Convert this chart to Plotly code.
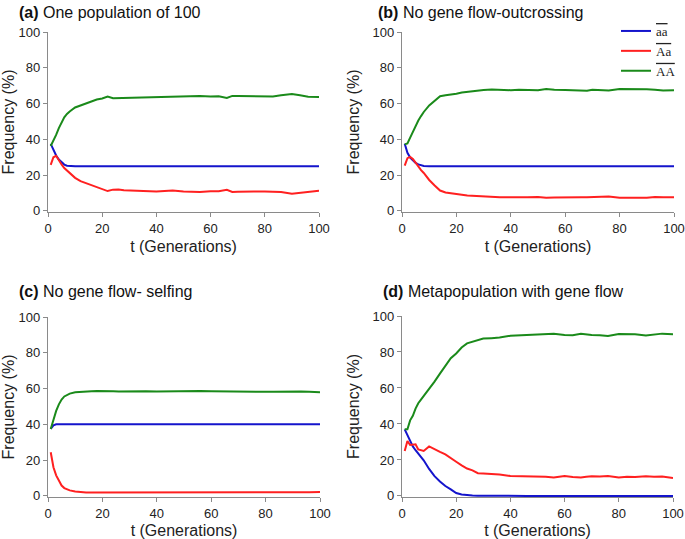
import plotly.graph_objects as go
from plotly.subplots import make_subplots

# generations sampled from the curves
generations = [1, 2, 3, 4, 5, 6, 7, 8, 10, 12, 14, 16, 18, 20, 22, 24, 26, 28, 30, 33, 36,
               40, 43, 46, 50, 53, 56, 60, 63, 66, 68, 70, 73, 76, 80, 83, 86, 90, 93, 96, 100]

# (a) one population of 100
aa_a = [37.5, 33.8, 31.0, 28.7, 27.0, 25.9, 25.3, 25.1] + [25.0] * 33
Aa_a = [25.7, 30.0, 30.8, 28.0, 26.0, 24.0, 22.5, 21.3, 18.5, 16.6, 15.5, 14.3, 12.9, 12.2, 11.1,
        11.9, 12.0, 11.6, 11.5, 11.4, 11.2, 10.9, 11.2, 11.4, 10.8, 10.7, 10.6, 11.0, 11.0, 11.8,
        10.6, 10.7, 10.6, 10.8, 10.9, 10.7, 10.6, 9.6, 10.1, 11.0, 11.3]
AA_a = [36.3, 39.0, 42.5, 46.3, 49.5, 52.3, 54.2, 55.6, 57.8, 58.9, 59.8, 61.2, 62.3, 62.8, 63.9,
        63.0, 63.1, 63.2, 63.3, 63.4, 63.5, 63.9, 63.8, 64.1, 64.3, 64.2, 64.3, 63.9, 64.1, 63.1,
        64.3, 64.3, 64.2, 64.2, 64.1, 64.0, 64.6, 65.3, 64.6, 63.8, 63.7]

# (b) no gene flow - outcrossing
aa_b = [37.5, 32.5, 29.8, 28.1, 26.8, 26.0, 25.4, 25.1] + [25.0] * 33
Aa_b = [25.3, 29.5, 30.2, 29.0, 27.0, 24.8, 22.8, 21.2, 17.3, 14.2, 11.4, 10.3, 10.0, 9.6, 9.0,
        8.6, 8.4, 8.1, 7.9, 7.8, 7.6, 7.7, 7.6, 7.6, 7.8, 7.3, 7.5, 7.6, 7.9, 7.7,
        7.6, 7.8, 7.7, 8.0, 7.3, 7.1, 7.3, 7.3, 7.8, 7.6, 7.6]
AA_b = [37.2, 37.7, 41.0, 44.3, 47.0, 50.5, 53.0, 55.3, 59.0, 61.8, 64.1, 64.7, 64.9, 65.5, 66.2,
        66.6, 67.2, 67.3, 67.6, 67.8, 67.6, 67.5, 67.7, 67.6, 67.5, 68.1, 67.7, 67.6, 67.5, 67.0,
        67.2, 67.7, 67.5, 67.3, 68.2, 68.2, 67.9, 68.0, 67.7, 67.3, 67.5]

# (c) no gene flow - selfing
aa_c = [37.5, 39.4] + [40.0] * 39
Aa_c = [24.4, 16.0, 11.5, 8.2, 5.8, 4.4, 3.6, 3.1, 2.5, 2.1, 1.9, 1.9, 1.9, 1.9, 2.0,
        1.9, 1.9, 1.8, 1.9, 1.8, 1.8, 1.9, 1.8, 1.8, 1.8, 1.8, 1.7, 1.8, 1.9, 1.9,
        1.9, 2.0, 2.0, 1.9, 2.0, 2.1, 2.0, 1.9, 2.0, 2.1, 2.2]
AA_c = [37.4, 42.5, 47.5, 51.2, 53.9, 55.6, 56.6, 57.2, 57.9, 58.2, 58.4, 58.5, 58.6, 58.7, 58.6,
        58.5, 58.4, 58.5, 58.5, 58.4, 58.5, 58.4, 58.5, 58.6, 58.6, 58.5, 58.6, 58.5, 58.4, 58.3,
        58.4, 58.3, 58.4, 58.3, 58.2, 58.2, 58.3, 58.4, 58.3, 58.2, 58.0]

# (d) metapopulation with gene flow
aa_d = [37.0, 33.5, 30.3, 27.5, 25.4, 23.7, 21.8, 19.8, 15.0, 11.0, 8.0, 5.5, 3.6, 1.6, 0.8,
        0.4, 0.2, 0.1, 0.05] + [0.0] * 22
Aa_d = [25.0, 30.5, 28.3, 28.3, 28.7, 25.8, 25.2, 25.0, 27.5, 25.8, 24.5, 23.1, 20.8, 19.0, 17.0,
        15.2, 14.2, 12.6, 12.5, 12.3, 11.9, 11.1, 11.0, 11.2, 10.9, 10.6, 10.2, 11.1, 10.5, 10.3,
        10.6, 10.9, 10.8, 11.1, 10.2, 10.6, 10.5, 10.9, 10.6, 10.8, 10.0]
AA_d = [37.0, 37.0, 42.0, 44.5, 48.5, 51.5, 53.5, 55.5, 58.9, 63.5, 68.0, 72.5, 76.5, 79.2, 82.5,
        84.8, 85.7, 86.6, 87.5, 87.7, 88.0, 89.0, 89.2, 89.4, 89.3, 89.6, 90.1, 89.5, 89.3, 90.1,
        89.6, 89.5, 89.3, 88.9, 90.0, 90.1, 89.8, 89.1, 89.8, 90.2, 89.8]

titles = ["<b>(a)</b> One population of 100", "<b>(b)</b> No gene flow-outcrossing",
          "<b>(c)</b> No gene flow- selfing", "<b>(d)</b> Metapopulation with gene flow"]
labels = ["aa", "Aa", "AA"]
colors = ["#1414cc", "#ff2020", "#1a8a1a"]

panels = [(aa_a, Aa_a, AA_a), (aa_b, Aa_b, AA_b), (aa_c, Aa_c, AA_c), (aa_d, Aa_d, AA_d)]

W, H = 685, 539
fig = make_subplots(rows=2, cols=2)

for i, series in enumerate(panels):
    r, c = i // 2 + 1, i % 2 + 1
    for j, vals in enumerate(series):
        fig.add_trace(go.Scatter(
            x=generations, y=vals, mode="lines",
            line=dict(color=colors[j], width=2),
            name='<span style="text-decoration:overline">' + labels[j] + '</span>',
            showlegend=(i == 1),
        ), row=r, col=c)

# domains in pixels (left, right, bottom, top)
boxes = [(48, 319, 212, 32), (402, 674, 212, 32), (48, 320, 497, 317), (402, 673, 497, 316)]
for i, (x0, x1, yb, yt) in enumerate(boxes):
    n = "" if i == 0 else str(i + 1)
    fig.layout["xaxis" + n].domain = [x0 / W, x1 / W]
    fig.layout["yaxis" + n].domain = [(H - yb) / H, (H - yt) / H]

axis_style = dict(
    showgrid=False, zeroline=False, showline=True, linecolor="#8a8a8a", linewidth=1.3,
    ticks="outside", ticklen=4, tickcolor="#8a8a8a", tickwidth=1.3, automargin=False,
    tickfont=dict(size=13, color="#222", family="Liberation Sans"),
    tickvals=[0, 20, 40, 60, 80, 100],
)
fig.update_xaxes(range=[0, 100], title=dict(text="t (Generations)", standoff=6,
                 font=dict(size=16, color="#222", family="Liberation Sans")), **axis_style)
fig.update_yaxes(range=[-0.6, 100], title=dict(text="Frequency (%)", standoff=8,
                 font=dict(size=16, color="#222", family="Liberation Sans")), **axis_style)

title_pos = [(17, 2), (376, 2), (17, 281), (381, 281)]
for t, (px, py) in zip(titles, title_pos):
    fig.add_annotation(text=t, x=px / W, y=(H - py) / H, xref="paper", yref="paper",
                       xanchor="left", yanchor="top", showarrow=False,
                       font=dict(size=16, color="#111", family="Liberation Sans"))

fig.update_layout(
    width=W, height=H, margin=dict(l=0, r=0, t=0, b=0, autoexpand=False),
    paper_bgcolor="white", plot_bgcolor="white",
    legend=dict(x=616 / W, y=(H - 16) / H, xanchor="left", yanchor="top",
                bgcolor="rgba(0,0,0,0)", tracegroupgap=0,
                font=dict(size=13, color="#222", family="Liberation Serif")),
)

fig.write_html("out.html", config={"displayModeBar": False},
               post_script="document.body.style.margin='0';")
